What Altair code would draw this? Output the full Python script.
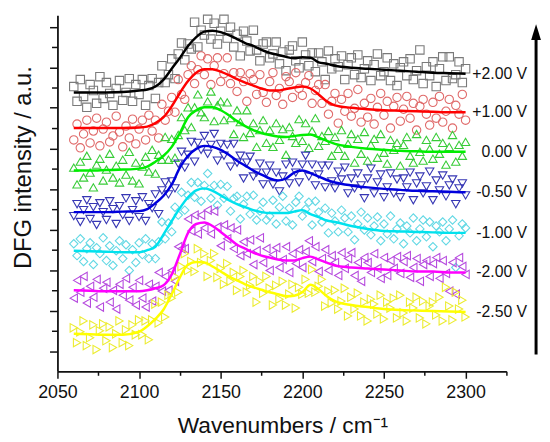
import altair as alt
import pandas as pd

FONT = "Liberation Sans"

series = ["+2.00 V", "+1.00 V", "0.00 V", "-0.50 V", "-1.00 V", "-2.00 V", "-2.50 V"]
shapes = ["square", "circle", "triangle-up", "triangle-down", "diamond", "triangle-left", "triangle-right"]
line_colors = ["#000000", "#ff0000", "#00ee00", "#0000dd", "#00e2ee", "#ff00ff", "#ffff00"]
point_colors = ["#7a7a7a", "#e06a6a", "#38cc38", "#3636b4", "#62d8e4", "#b64ade", "#ecec30"]

# wavenumbers of the measured points (cm-1)
pt_x = list(range(2060, 2301, 2))

black_pts = [288, 273, 295, 278, 267, 290, 284, 271, 298, 276,
             292, 281, 269, 286, 294, 274, 282, 296, 273, 290,
             280, 295, 269, 289, 296, 276, 292, 309, 292, 300,
             316, 296, 321, 332, 315, 331, 326, 353, 328, 345,
             340, 356, 336, 352, 331, 344, 356, 337, 348, 328,
             341, 319, 344, 334, 324, 345, 325, 314, 331, 333,
             317, 321, 333, 311, 323, 304, 325, 329, 314, 307,
             333, 320, 309, 322, 303, 322, 313, 295, 324, 306,
             316, 308, 319, 295, 310, 317, 300, 320, 297, 306,
             314, 294, 310, 321, 299, 303, 317, 294, 311, 289,
             307, 313, 299, 316, 295, 304, 325, 291, 308, 299,
             313, 288, 306, 318, 294, 318, 296, 300, 313, 292,
             306]
red_pts = [234, 250, 226, 240, 254, 231, 243, 256, 228, 245,
           252, 232, 238, 258, 242, 227, 248, 236, 255, 230,
           245, 254, 234, 259, 243, 254, 236, 270, 254, 263,
           277, 262, 295, 280, 275, 300, 309, 291, 305, 319,
           300, 316, 290, 309, 317, 293, 301, 317, 291, 302,
           283, 302, 293, 273, 301, 295, 280, 300, 282, 272,
           293, 302, 279, 286, 270, 298, 293, 277, 302, 286,
           279, 292, 299, 271, 284, 290, 271, 290, 260, 273,
           281, 251, 275, 263, 281, 258, 266, 285, 252, 271,
           257, 276, 250, 267, 281, 259, 273, 246, 268, 277,
           253, 265, 278, 256, 271, 244, 268, 275, 260, 249,
           272, 256, 278, 252, 263, 275, 246, 269, 260, 280,
           254]
green_pts = [206, 189, 212, 196, 218, 201, 186, 209, 215, 193,
             204, 220, 196, 208, 191, 214, 199, 222, 193, 211,
             190, 207, 217, 202, 224, 200, 219, 214, 237, 214,
             235, 216, 239, 257, 244, 267, 247, 267, 280, 262,
             257, 273, 283, 253, 269, 273, 254, 272, 256, 240,
             264, 252, 237, 264, 241, 251, 227, 244, 254, 231,
             244, 227, 251, 234, 245, 219, 247, 238, 231, 255,
             233, 251, 226, 243, 256, 228, 238, 233, 243, 218,
             237, 225, 244, 218, 230, 240, 211, 235, 220, 242,
             213, 229, 235, 216, 240, 221, 210, 234, 224, 231,
             208, 229, 237, 218, 211, 240, 222, 213, 234, 225,
             215, 237, 220, 231, 209, 227, 239, 212, 229, 218,
             232]
blue_pts = [157, 169, 151, 163, 173, 154, 166, 148, 170, 161,
            153, 172, 164, 149, 167, 158, 175, 152, 163, 172,
            156, 176, 152, 169, 165, 179, 159, 183, 191, 179,
            192, 185, 210, 222, 206, 219, 232, 212, 231, 224,
            238, 220, 229, 240, 213, 230, 218, 229, 207, 230,
            211, 218, 195, 211, 217, 197, 201, 210, 189, 201,
            208, 189, 201, 182, 197, 209, 190, 211, 201, 191,
            209, 218, 197, 209, 188, 199, 208, 186, 208, 192,
            185, 202, 194, 206, 180, 195, 185, 200, 188, 175,
            195, 205, 180, 191, 199, 176, 186, 200, 180, 194,
            176, 195, 186, 201, 173, 190, 197, 180, 187, 202,
            173, 193, 183, 198, 177, 188, 194, 169, 185, 190,
            178]
cyan_pts = [129, 117, 134, 111, 124, 130, 108, 125, 119, 135,
            112, 127, 107, 122, 132, 114, 128, 102, 123, 110,
            130, 118, 134, 114, 129, 114, 131, 151, 134, 150,
            141, 166, 158, 181, 163, 178, 191, 176, 191, 172,
            188, 200, 175, 188, 168, 189, 175, 187, 162, 175,
            177, 154, 169, 177, 159, 178, 153, 162, 171, 153,
            157, 173, 149, 166, 177, 152, 165, 148, 171, 177,
            157, 164, 171, 148, 172, 161, 151, 165, 140, 160,
            152, 141, 163, 155, 141, 157, 133, 149, 161, 143,
            155, 138, 147, 156, 132, 149, 139, 157, 134, 144,
            150, 129, 147, 140, 155, 132, 144, 153, 136, 151,
            126, 147, 141, 151, 132, 144, 153, 105, 137, 149,
            145]
magenta_pts = [74, 92, 80, 96, 69, 86, 75, 93, 65, 84,
               90, 70, 82, 63, 88, 77, 94, 72, 85, 67,
               92, 74, 65, 88, 71, 86, 100, 81, 96, 82,
               102, 91, 126, 124, 124, 154, 142, 158, 139, 158,
               145, 163, 139, 162, 146, 127, 148, 134, 145, 124,
               143, 117, 131, 119, 133, 108, 122, 135, 110, 124,
               102, 118, 125, 105, 113, 126, 100, 119, 109, 123,
               105, 121, 132, 111, 126, 101, 114, 123, 102, 117,
               110, 97, 120, 104, 114, 120, 97, 110, 91, 115,
               110, 100, 119, 104, 94, 115, 97, 112, 104, 116,
               99, 111, 117, 95, 105, 114, 91, 108, 112, 96,
               109, 115, 94, 112, 99, 81, 110, 78, 115, 106,
               98]
yellow_pts = [44, 29, 40, 51, 26, 34, 47, 22, 41, 48,
              31, 45, 24, 38, 51, 29, 42, 26, 47, 37,
              52, 37, 51, 32, 52, 68, 49, 70, 55, 77,
              74, 96, 80, 106, 119, 102, 111, 101, 124, 110,
              119, 96, 112, 119, 95, 104, 88, 109, 91, 100,
              82, 96, 102, 80, 87, 96, 70, 91, 79, 96,
              84, 67, 87, 73, 91, 67, 78, 88, 64, 85,
              78, 93, 79, 103, 80, 86, 93, 66, 81, 69,
              82, 63, 71, 84, 56, 75, 63, 79, 56, 70,
              51, 73, 68, 58, 77, 53, 70, 64, 74, 54,
              77, 59, 51, 70, 64, 75, 54, 71, 48, 66,
              70, 57, 75, 51, 85, 66, 52, 80, 63, 72,
              55]

# fitted curves
fit_x = [2060, 2070, 2080, 2090, 2100, 2105, 2110, 2115, 2120, 2125, 2130, 2135,
         2140, 2145, 2150, 2155, 2160, 2165, 2170, 2175, 2180, 2185, 2190, 2195,
         2200, 2205, 2210, 2215, 2220, 2230, 2240, 2250, 2260, 2270, 2280, 2290, 2300]
black_fit = [282, 282, 282, 282.5, 284, 285, 288, 295, 306, 317, 329, 338,
             343.5, 344.5, 343, 340, 336, 332, 329, 325, 322, 320, 318, 316.5,
             317.5, 317, 312.5, 311, 309, 307, 306, 305, 304, 303, 302, 301.5, 301]
red_fit = [246, 246, 246, 246, 246.5, 247.5, 251, 257, 268, 281.5, 293.5, 302,
           305.5, 305.5, 303, 299.5, 295.5, 292, 289, 286, 284, 284, 285.5, 287,
           288, 286, 280, 273, 269, 266.5, 265, 264, 263.5, 263, 262.5, 262, 262]
green_fit = [203, 203, 203.5, 204, 205, 207, 212, 218, 227, 241, 257, 264,
             267, 267, 264, 259, 253, 248, 244, 241, 239, 237.5, 237, 238,
             239, 239.5, 236.5, 233, 230, 227, 225, 224, 223, 222.5, 222, 222, 222]
blue_fit = [161, 161, 161, 161.5, 162, 164, 170, 177.5, 189, 206, 218, 225,
            228, 227, 224, 219, 213, 208, 203, 199, 195, 193, 195, 201,
            203, 200.5, 197, 193.5, 191, 188, 186, 184.5, 183.5, 182.5, 182, 181.5, 181]
cyan_fit = [122, 121.5, 121, 120.5, 120.5, 122.5, 126, 138.5, 152, 165, 176, 183,
            185, 182.5, 178, 173, 169, 166, 163, 161, 160, 160, 160, 161.5,
            163, 159, 156, 152.5, 151, 147, 144, 142, 141.5, 141, 140.5, 140, 140]
magenta_fit = [82, 81.5, 81, 81, 81, 82, 84, 87, 98, 118.5, 140, 149,
               150.5, 147, 141, 134.5, 128, 124, 120, 117, 115, 113, 112, 112,
               114.5, 116, 113, 110, 107, 105, 104, 103, 102, 101, 101, 100, 100]
yellow_fit = [38, 37.5, 37, 37, 40, 45.5, 53, 62.5, 78, 95, 108, 110.5,
              110, 106, 101, 96, 92, 88, 85, 82.5, 80, 78, 76, 76.5,
              80, 87.5, 83, 76, 71, 67, 65, 63, 62, 61.5, 61, 60.5, 60]

all_pts = [black_pts, red_pts, green_pts, blue_pts, cyan_pts, magenta_pts, yellow_pts]
all_fit = [black_fit, red_fit, green_fit, blue_fit, cyan_fit, magenta_fit, yellow_fit]

pts_rows = []
for s, ys in zip(series, all_pts):
    for xv, yv in zip(pt_x, ys):
        pts_rows.append({"series": s, "x": xv, "y": yv})
pts_df = pd.DataFrame(pts_rows)

fit_rows = []
for s, ys in zip(series, all_fit):
    for xv, yv in zip(fit_x, ys):
        fit_rows.append({"series": s, "x": xv, "y": yv})
fit_df = pd.DataFrame(fit_rows)

label_df = pd.DataFrame({"series": series, "y": [f[-1] for f in all_fit]})

X = alt.Scale(domain=[2050, 2325], nice=False, zero=False)
Y = alt.Scale(domain=[0, 360], nice=False, zero=False)

AX = "#111111"
major_y_vals = [20.5 * k for k in range(1, 18, 2)]
minor_y_vals = [20.5 * k for k in range(2, 18, 2)]

major_x = alt.Axis(orient="bottom", values=list(range(2050, 2301, 50)), format="d", tickSize=7,
                   tickWidth=1.5, tickColor=AX, domainColor=AX, domainWidth=1.8, labelFontSize=18,
                   labelFont=FONT, labelColor=AX, labelPadding=5, labelFlush=False, grid=False,
                   title="Wavenumbers / cm⁻¹", titleFontSize=23, titleFont=FONT,
                   titleFontWeight="normal", titleColor=AX, titleX=227.5, titleY=62,
                   titleBaseline="alphabetic", titleAlign="center")
minor_x = alt.Axis(orient="bottom", values=list(range(2075, 2326, 50)), tickSize=4, tickWidth=1.5,
                   tickColor=AX, domain=False, labels=False, grid=False, title=None)
major_y = alt.Axis(orient="left", values=major_y_vals, tickSize=8, tickWidth=1.5, tickColor=AX,
                   domainColor=AX, domainWidth=1.8, labels=False, grid=False,
                   title="DFG intensity / a.u.", titleFontSize=24, titleFont=FONT,
                   titleFontWeight="normal", titleColor=AX, titleX=-27, titleY=153.5,
                   titleAngle=270, titleBaseline="alphabetic", titleAlign="center")
minor_y = alt.Axis(orient="left", values=minor_y_vals, tickSize=6, tickWidth=1.5, tickColor=AX,
                   domain=False, labels=False, grid=False, title=None)

points = alt.Chart(pts_df).mark_point(filled=False, size=72, strokeWidth=1.1, opacity=1).encode(
    x=alt.X("x:Q", scale=X, axis=minor_x),
    y=alt.Y("y:Q", scale=Y, axis=minor_y),
    shape=alt.Shape("series:N", scale=alt.Scale(domain=series, range=shapes), legend=None),
    stroke=alt.Stroke("series:N", scale=alt.Scale(domain=series, range=point_colors), legend=None),
)

lines = alt.Chart(fit_df).mark_line(strokeWidth=2.5, interpolate="monotone").encode(
    x=alt.X("x:Q", scale=X, axis=major_x),
    y=alt.Y("y:Q", scale=Y, axis=major_y),
    color=alt.Color("series:N", scale=alt.Scale(domain=series, range=line_colors), legend=None),
)

labels = alt.Chart(label_df).mark_text(align="right", baseline="middle", fontSize=16, font=FONT,
                                       color=AX).encode(
    x=alt.value(475),
    y=alt.Y("y:Q", scale=Y, axis=None),
    text="series:N",
)

arrow_df = pd.DataFrame({"k": [0]})
shaft = alt.Chart(arrow_df).mark_rule(color="#000000", strokeWidth=3).encode(
    x=alt.value(484), y=alt.value(22), y2=alt.value(343))
head = alt.Chart(arrow_df).mark_point(shape="M0,-1L0.62,1L-0.62,1Z", filled=True, color="#000000",
                                      size=256, opacity=1).encode(
    x=alt.value(484), y=alt.value(17))

chart = alt.layer(points, lines, labels, shaft, head).resolve_axis(
    x="independent", y="independent"
).properties(
    width=454, height=360,
    padding={"left": 50, "top": 5, "right": 36, "bottom": 64},
    autosize=alt.AutoSizeParams(type="none"),
    background="white",
).configure_view(stroke=None)

chart.save("out.html", embed_options={"renderer": "svg", "actions": False})
